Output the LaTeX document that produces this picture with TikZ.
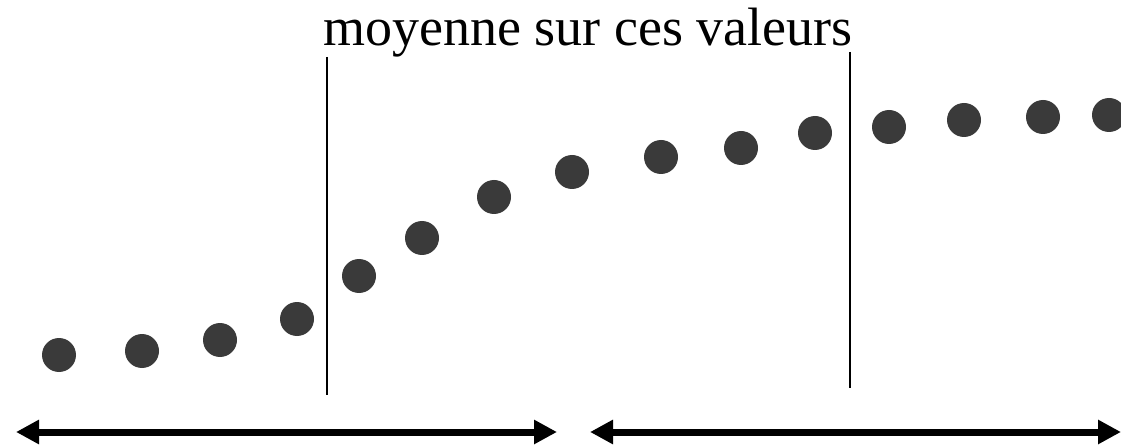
\documentclass[tikz,border=0pt]{standalone}
\usepackage{xcolor}
\usepackage{fontspec}
\setmainfont{Liberation Serif}
\usepackage{tikz}
\usetikzlibrary{arrows.meta}
\usetikzlibrary{calc}

\definecolor{dotgray}{RGB}{58,58,58}

\begin{document}
\begin{tikzpicture}[x=1pt,y=-1pt]
\tikzset{every dot/.style={circle,fill=dotgray,inner sep=0pt,minimum size=34pt}}
\tikzset{every bar/.style={line width=2pt}}
\tikzset{every span/.style={line width=7pt,{Triangle[length=23pt,width=23pt]}-{Triangle[length=23pt,width=23pt]}}}

   \useasboundingbox (0,0) rectangle (1121,446);

   \foreach \pos [count=\i] in {%
     {59,355},{142,351},{220,340},{297,319},{359,276},%
     {422,238},{494,197},{572,172},{661,157},{741,148},%
     {815,133},{889,127},{964,120},{1043,117},{1109,115}}
     \node [every dot] (d\i) at (\pos) {};

   \node (titre) at (588,33) {\fontsize{54}{60}\selectfont moyenne sur ces valeurs};

   \coordinate (g1) at (327,57);
   \coordinate (g2) at (327,395);
   \coordinate (h1) at (850,52);
   \coordinate (h2) at (850,388);
   \draw [every bar] (g1) -- (g2);
   \draw [every bar] (h1) -- (h2);

   \coordinate (a1) at (16,432);
   \coordinate (a2) at (557,432);
   \coordinate (b1) at (590,432);
   \coordinate (b2) at (1121,432);
   \draw [every span] (a1) -- (a2);
   \draw [every span] (b1) -- (b2);
\end{tikzpicture}
\end{document}
